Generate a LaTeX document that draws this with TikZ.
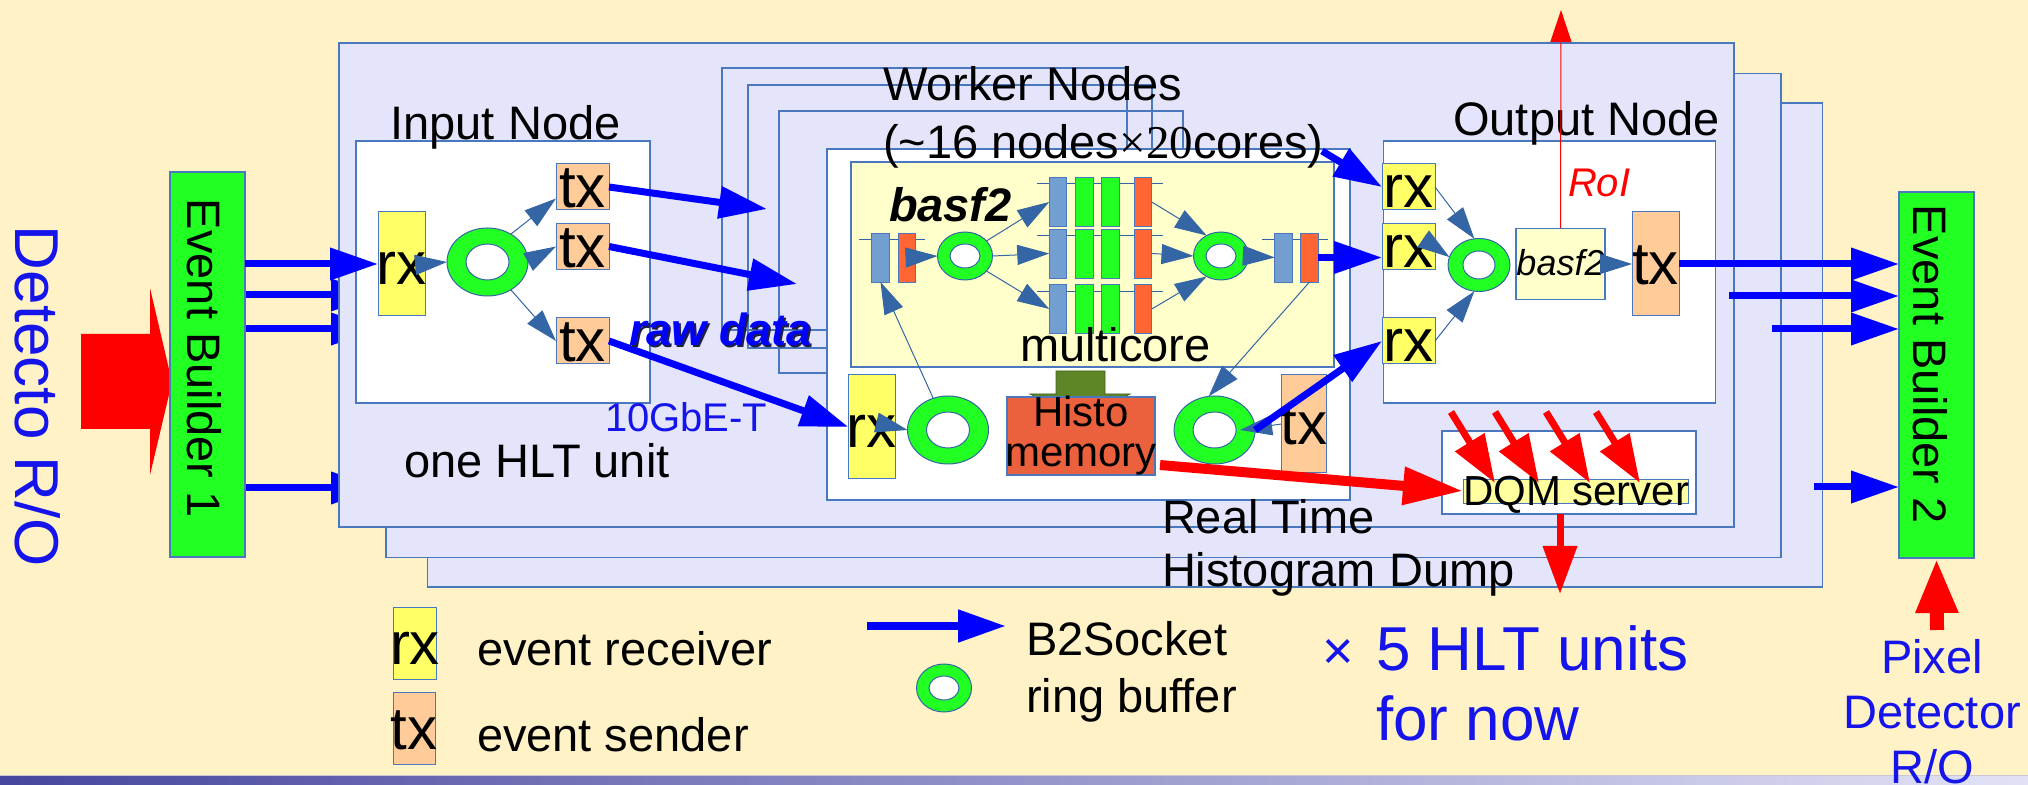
\documentclass[tikz,border=0pt]{standalone}
\usepackage{fontspec}
\setmainfont{Liberation Sans}
\newfontfamily\timesx{Liberation Serif}
\usetikzlibrary{arrows.meta,shapes.geometric,calc}

\definecolor{cream}{RGB}{255,242,198}
\definecolor{lav}{RGB}{228,228,251}
\definecolor{edge}{RGB}{74,120,190}
\definecolor{steel}{RGB}{52,101,164}
\definecolor{ebgreen}{RGB}{34,255,34}
\definecolor{rxyel}{RGB}{255,255,102}
\definecolor{txorange}{RGB}{255,204,153}
\definecolor{paleyel}{RGB}{255,255,204}
\definecolor{cellblue}{RGB}{114,159,207}
\definecolor{cellorange}{RGB}{255,102,51}
\definecolor{histored}{RGB}{235,97,61}
\definecolor{olivegreen}{RGB}{94,133,38}
\definecolor{pureblue}{RGB}{0,0,255}
\definecolor{textblue}{RGB}{20,20,235}
\definecolor{pured}{RGB}{255,0,0}
\definecolor{dqmyel}{RGB}{255,255,160}
\definecolor{barleft}{RGB}{70,70,158}
\definecolor{barright}{RGB}{226,226,246}
\definecolor{barline}{RGB}{200,200,215}
\definecolor{shadowc}{RGB}{30,30,70}

\newcommand\fsz[1]{\fontsize{#1pt}{#1pt}\selectfont}
\newcommand\ctr[1]{\makebox[0pt]{#1}}
\newcommand\ringbuf[4]{%
  \node[ringout,#3] (#1) at #2 {};
  \node[ringhole,#4] (#1h) at #2 {};}

\tikzset{
  edgebox/.style={draw=edge, line width=0.7pt, inner sep=0pt, outer sep=0pt},
  hltbox/.style={edgebox, fill=lav, minimum width=697.5pt, minimum height=242pt},
  whitebox/.style={edgebox, fill=white},
  rxbox/.style={edgebox, line width=0.5pt, fill=rxyel, text height=21pt, text depth=0pt, font=\fsz{30}},
  txbox/.style={rxbox, fill=txorange},
  cellbar/.style={edgebox, line width=0.4pt, minimum width=8.75pt, minimum height=24.5pt},
  ringout/.style={ellipse, draw=steel, line width=0.5pt, fill=ebgreen, inner sep=0pt, outer sep=0pt},
  ringhole/.style={ellipse, draw=steel, line width=0.5pt, fill=white, inner sep=0pt, outer sep=0pt},
  bigring/.style={minimum width=40.5pt, minimum height=34pt},
  bighole/.style={minimum width=21.5pt, minimum height=18pt},
  midring/.style={minimum width=27.5pt, minimum height=24pt},
  midhole/.style={minimum width=15pt, minimum height=12pt},
  outring/.style={minimum width=31pt, minimum height=26.5pt},
  outhole/.style={minimum width=16pt, minimum height=14pt},
  lbl/.style={anchor=base west, inner sep=0pt, outer sep=0pt, font=\fsz{23.5}},
  clbl/.style={lbl, anchor=base},
  bluearrow/.style={draw=pureblue, line width=3.5pt, -{Triangle[length=24pt,width=15.5pt]}},
  steelarrow/.style={draw=steel, line width=0.5pt, -{Triangle[length=16pt,width=10pt]}},
  redarrow/.style={draw=pured, line width=3.5pt, -{Triangle[length=24pt,width=16.5pt]}},
  frameline/.style={draw=edge, line width=0.6pt},
  cellline/.style={draw=steel, line width=0.5pt},
}

\begin{document}
\begin{tikzpicture}[x=0.5pt,y=-0.5pt]
\useasboundingbox (0,0) rectangle (2028,785);
\fill[cream] (0,0) rectangle (2028,785);
\shade[left color=barleft,right color=barright] (0,776) rectangle (2028,785);
\draw[barline, line width=0.6pt] (0,775.3) -- (2028,775.3);

% detector readout
\fill[pured] (81,334) -- (150,334) -- (150,288) -- (172,382) -- (150,475) -- (150,429) -- (81,429) -- cycle;
\node[lbl, font=\fsz{31}, text=textblue, rotate=-90] (detro) at (16,226) {Detecto R/O};

% links from event builder 1 into the units stacked behind
\coordinate (e2) at (245,295); \coordinate (h2) at (379,295);
\coordinate (e3) at (245,329); \coordinate (h3) at (379,329);
\coordinate (e4) at (245,488); \coordinate (h4) at (379,488);
\draw[bluearrow] (e2) -- (h2);
\draw[bluearrow] (e3) -- (h3);
\draw[bluearrow] (e4) -- (h4);

% stacked HLT units
\node[hltbox] (hlt3) at (1125,345) {};
\node[hltbox] (hlt2) at (1083.5,315.5) {};
\node[hltbox] (hlt1) at (1036.5,285) {};

% event builders
\node[edgebox, fill=ebgreen, minimum width=37.5pt, minimum height=192.5pt] (eb1) at (207.5,364.5) {};
\node[lbl, rotate=-90] (eb1t) at (187,199) {Event Builder 1};
\node[edgebox, fill=ebgreen, minimum width=37.5pt, minimum height=183pt] (eb2) at (1936.5,375) {};
\node[lbl, rotate=-90] (eb2t) at (1913,205) {Event Builder 2};

% worker node frames behind the front one
\draw[frameline] (722,68) rectangle (1127,330);
\draw[frameline] (748,85) rectangle (1152,348);
\draw[frameline] (779,111) rectangle (1183,373);

% ---------------- input node
\node[whitebox, minimum width=147pt, minimum height=131pt] (inode) at (503,272) {};
\node[clbl] (inodet) at (505.5,140) {Input Node};
\node[rxbox, minimum width=23.5pt, minimum height=52pt] (rxin) at (401.5,264) {\ctr{rx}};
\node[txbox, minimum width=26.5pt, minimum height=23pt] (tx1) at (582.5,187) {\ctr{tx}};
\node[txbox, minimum width=26.5pt, minimum height=23pt] (tx2) at (582.5,246.5) {\ctr{tx}};
\node[txbox, minimum width=26.5pt, minimum height=23pt] (tx3) at (582.5,341) {\ctr{tx}};
\ringbuf{ringin}{(487.5,262)}{bigring}{bighole}
\draw[steelarrow] (rxin.east) -- (ringin.west);
\draw[steelarrow] (ringin.50) -- ($(tx1.west)!0.5!(tx1.south west)$);
\draw[steelarrow] (ringin.east) -- (tx2.west);
\draw[steelarrow] (ringin.-50) -- (tx3.west);

% ---------------- worker node
\node[whitebox, minimum width=261.5pt, minimum height=175.5pt] (wfront) at (1088.5,324.5) {};
\node[edgebox, line width=0.6pt, fill=paleyel, minimum width=241.5pt, minimum height=102.5pt] (mcore) at (1092.5,264.5) {};
\draw[cellline] (859,240) -- (925,240);
\node[cellbar, fill=cellblue] (lb) at (880.5,257.5) {};
\node[cellbar, fill=cellorange] (lo) at (907,257.5) {};
\ringbuf{ringa}{(965,256)}{midring}{midhole}
\draw[cellline] (1037,184) -- (1163,184);
\draw[cellline] (1037,236) -- (1163,236);
\draw[cellline] (1037,292) -- (1163,292);
\foreach \r/\y in {1/202,2/253.5,3/309}{
  \node[cellbar, fill=cellblue] (b\r) at (1058,\y) {};
  \node[cellbar, fill=ebgreen] (g\r) at (1084.5,\y) {};
  \node[cellbar, fill=ebgreen] (k\r) at (1110.5,\y) {};
  \node[cellbar, fill=cellorange] (o\r) at (1143,\y) {};
}
\ringbuf{ringb}{(1221,256)}{midring}{midhole}
\draw[cellline] (1262,240) -- (1328,240);
\node[cellbar, fill=cellblue] (rb) at (1283.5,257.5) {};
\node[cellbar, fill=cellorange] (ro) at (1309.5,257.5) {};

\draw[steelarrow] (lo.center) -- (ringa.west);
\draw[steelarrow] (ringa.35) -- (b1.west);
\draw[steelarrow] (ringa.east) -- (b2.west);
\draw[steelarrow] (ringa.-35) -- (b3.west);
\draw[steelarrow] (o1.east) -- (ringb.125);
\draw[steelarrow] (o2.east) -- (ringb.west);
\draw[steelarrow] (o3.east) -- (ringb.-125);
\draw[steelarrow] (ringb.east) -- (rb.west);

\node[lbl, font=\fsz{23.5}\bfseries\itshape] (mcbasf) at (889,222) {basf2};
\node[lbl] (mcoret) at (1020,362) {multicore};

% lower part of the worker node
\node[rxbox, minimum width=23.25pt, minimum height=52pt] (rxw) at (871.75,427) {\ctr{rx}};
\ringbuf{ringwl}{(948,430)}{bigring}{bighole}
\filldraw[fill=olivegreen, draw=olivegreen!75!black, line width=0.4pt]
  (1056,371) -- (1105,371) -- (1105,394) -- (1130,394) -- (1080.5,420) -- (1030,394) -- (1056,394) -- cycle;
\node[edgebox, line width=0.6pt, fill=histored, minimum width=74pt, minimum height=39pt] (histo) at (1081,436) {};
\node[clbl, font=\fsz{21}] (histot) at (1081,427) {Histo};
\node[clbl, font=\fsz{21}] (memt) at (1081,467) {memory};
\ringbuf{ringwr}{(1214.6,430)}{bigring}{bighole}
\node[txbox, minimum width=22.75pt, minimum height=49pt] (txw) at (1304,424) {\ctr{tx}};
\draw[steelarrow] (rxw.east) -- (ringwl.west);
\draw[steelarrow] (ringwl.115) -- (lb.south);
\draw[steelarrow] (ro.south) -- (ringwr.100);
\draw[steelarrow] (txw.west) -- ([xshift=-7.5pt]ringwr.east);

% ---------------- output node
\node[whitebox, minimum width=166pt, minimum height=131pt] (onode) at (1549.5,272) {};
\node[clbl] (onodet) at (1586.5,136) {Output Node};
\node[rxbox, minimum width=26.5pt, minimum height=23pt] (rxo1) at (1408.5,187) {\ctr{rx}};
\node[rxbox, minimum width=26.5pt, minimum height=23pt] (rxo2) at (1408.5,247) {\ctr{rx}};
\node[rxbox, minimum width=26.5pt, minimum height=23pt] (rxo3) at (1408.5,341) {\ctr{rx}};
\ringbuf{ringo}{(1479,265)}{outring}{outhole}
\node[edgebox, line width=0.6pt, fill=paleyel, minimum width=44.5pt, minimum height=35.75pt,
      text height=11.5pt, text depth=0pt, font=\fsz{18}\itshape] (basfo) at (1560.5,264) {\ctr{basf2}};
\node[txbox, minimum width=23.5pt, minimum height=52pt] (txo) at (1655.5,264) {\ctr{tx}};
\draw[steelarrow] (rxo1.east) -- (ringo.100);
\draw[steelarrow] (rxo2.east) -- (ringo.165);
\draw[steelarrow] (rxo3.east) -- (ringo.-100);
\draw[steelarrow] (basfo.east) -- (txo.west);
\coordinate (roitop) at (1561,10);
\draw[draw=pured, line width=0.5pt, -{Triangle[length=16pt,width=10.5pt]}] (basfo.north) -- (roitop);
\node[lbl, font=\fsz{20}\itshape, text=pured] (roit) at (1568,197) {RoI};

% ---------------- DQM server
\node[whitebox, minimum width=127pt, minimum height=41.5pt] (dqmbox) at (1569,472.5) {};
\node[edgebox, line width=0.4pt, fill=dqmyel, minimum width=112.5pt, minimum height=12pt] (dqmstrip) at (1575.5,491) {};
\node[lbl, font=\fsz{21}] (dqmt) at (1463,506) {DQM server};
\foreach \i/\xs/\xe in {1/1451/1495,2/1495/1539,3/1546/1590,4/1596/1640}{
  \coordinate (ds\i) at (\xs,412);
  \coordinate (de\i) at (\xe,483);
  \draw[redarrow] (ds\i) -- (de\i);
}
\coordinate (dqmout) at (1560,594);
\draw[redarrow] (dqmbox.south -| dqmout) -- (dqmout);

% ---------------- data paths
\draw[bluearrow] (eb1.east |- rxin.west) -- (rxin.west);
\coordinate (c1) at (767,209);
\coordinate (c2) at (797,284);
\draw[bluearrow] (tx1.east) -- (c1);
\draw[bluearrow] (tx2.east) -- (c2);
\draw[bluearrow] (tx3.east) -- (rxw.west);
\coordinate (wstart) at (1322,151);
\draw[bluearrow] (wstart) -- (rxo1.west);
\draw[bluearrow] (ro.east) -- (ro.east -| rxo2.west);
\draw[bluearrow] (ringwr.east) -- (rxo3.west);
\draw[bluearrow] (txo.east) -- (txo.east -| eb2.west);
\coordinate (f2) at (1729,296);
\coordinate (f3) at (1772,329);
\coordinate (f4) at (1814,487);
\draw[bluearrow] (f2) -- (f2 -| eb2.west);
\draw[bluearrow] (f3) -- (f3 -| eb2.west);
\draw[bluearrow] (f4) -- (f4 -| eb2.west);
\draw[draw=pured, line width=5pt, -{Triangle[length=30pt,width=18pt]}] ([shift={(5,-10)}]histo.south east) -- (dqmstrip.west);

% pixel detector readout
\coordinate (pixtop) at (1937,630);
\draw[draw=pured, line width=7pt, -{Triangle[length=27.5pt,width=19.5pt]}] (pixtop) -- (eb2.south);
\node[clbl, text=textblue] (pix1) at (1932,673) {Pixel};
\node[clbl, text=textblue] (pix2) at (1932,728) {Detector};
\node[clbl, text=textblue] (pix3) at (1932,783) {R/O};

% ---------------- labels
\node[lbl] (wn1) at (883,101) {Worker Nodes};
\node[lbl] (wn2) at (883,159) {(\char"7E 16 nodes{\timesx ×20}cores)};
\node[lbl] (hltt) at (404,478) {one HLT unit};
\node[lbl, font=\fsz{20}, text=textblue] (gbe) at (605,432) {10GbE-T};
\node[lbl, font=\fsz{22.5}\bfseries\itshape, text=shadowc] (rawsh) at (631,348) {raw data};
\node[lbl, font=\fsz{22.5}\bfseries\itshape, text=pureblue] (raw) at (629,346) {raw data};
\node[lbl] (rt1) at (1162,534) {Real Time};
\node[lbl] (rt2) at (1162,586) {Histogram Dump};

% ---------------- legend
\node[rxbox, minimum width=21.8pt, minimum height=36pt] (legrx) at (415,643) {\ctr{rx}};
\node[txbox, minimum width=21pt, minimum height=36pt] (legtx) at (414,728) {\ctr{tx}};
\node[lbl] (legrxt) at (477,665) {event receiver};
\node[lbl] (legtxt) at (477,751) {event sender};
\coordinate (lega) at (867,626);
\coordinate (legb) at (1006,626);
\draw[bluearrow, line width=4pt] (lega) -- (legb);
\ringbuf{legring}{(944,688)}{midring}{midhole}
\node[lbl] (legsock) at (1026,655) {B2Socket};
\node[lbl] (legbuf) at (1026,712) {ring buffer};
\node[lbl, font=\fsz{27}, text=textblue] (times) at (1322,669) {×};
\node[lbl, font=\fsz{31}, text=textblue] (units1) at (1376,670) {5 HLT units};
\node[lbl, font=\fsz{31}, text=textblue] (units2) at (1376,740) {for now};
\end{tikzpicture}
\end{document}
